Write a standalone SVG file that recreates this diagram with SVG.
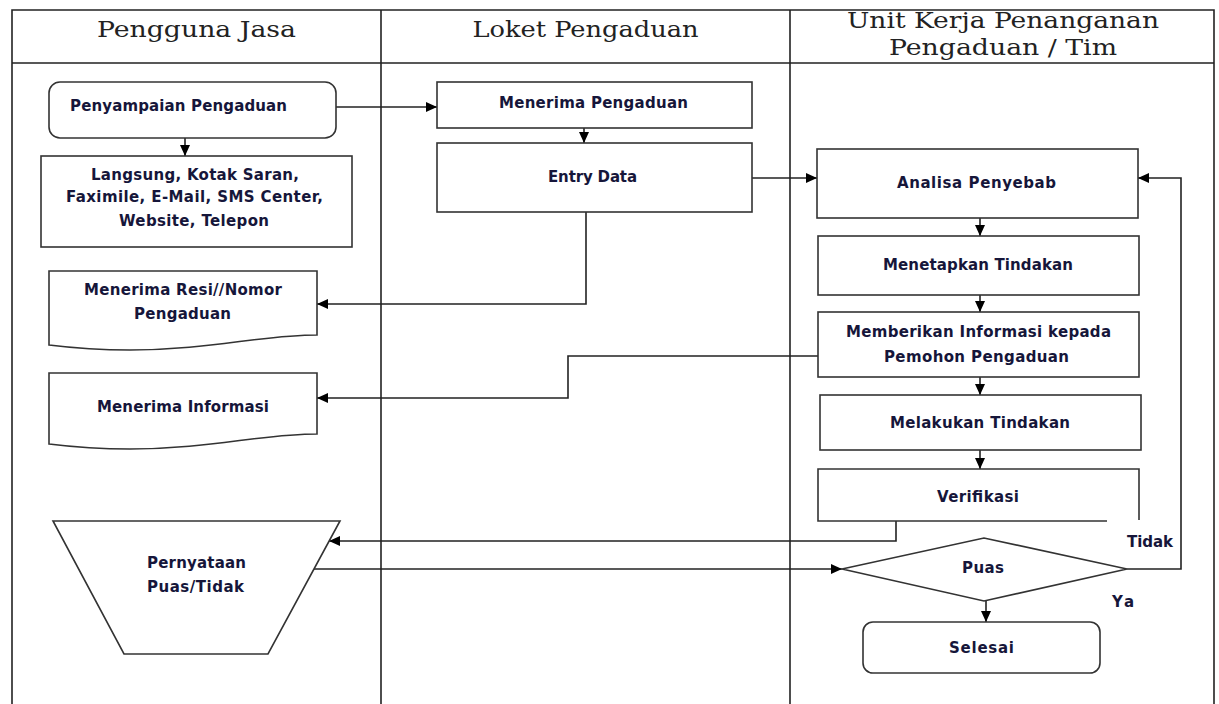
<svg xmlns="http://www.w3.org/2000/svg" width="1219" height="704" viewBox="0 0 1219 704">
<style>
.lane{fill:none;stroke:#222;stroke-width:1.6}
.hd{font-family:"DejaVu Serif","Liberation Serif",serif;font-size:22px;fill:#222;text-anchor:middle}
.box{fill:#fff;stroke:#333;stroke-width:1.6}
.t{font-family:"DejaVu Sans","Liberation Sans",sans-serif;font-weight:bold;font-size:15px;fill:#16163a;text-anchor:middle}
.c{fill:none;stroke:#222;stroke-width:1.6}
</style>
<defs>
<marker id="ah" markerUnits="userSpaceOnUse" markerWidth="12" markerHeight="10" refX="11" refY="5" orient="auto">
<path d="M0,0 L11,5 L0,10 z" fill="#000"/>
</marker>
</defs>
<rect width="1219" height="704" fill="#fff"/>
<g id="lanes">
<path class="lane" d="M12,704 V10 H1214 V704 M12,63 H1214 M381,10 V704 M790,10 V704"/>
<text class="hd" x="196.5" y="37" textLength="199" lengthAdjust="spacingAndGlyphs">Pengguna Jasa</text>
<text class="hd" x="585.5" y="37" textLength="226" lengthAdjust="spacingAndGlyphs">Loket Pengaduan</text>
<text class="hd" x="1003" y="28" textLength="312" lengthAdjust="spacingAndGlyphs">Unit Kerja Penanganan</text>
<text class="hd" x="1003" y="55" textLength="228" lengthAdjust="spacingAndGlyphs">Pengaduan / Tim</text>
</g>
<g id="connectors">
<path class="c" d="M336,107 H437" marker-end="url(#ah)"/>
<path class="c" d="M185,138 V156" marker-end="url(#ah)"/>
<path class="c" d="M584,128 V143" marker-end="url(#ah)"/>
<path class="c" d="M586,212 V304 H317" marker-end="url(#ah)"/>
<path class="c" d="M752,178 H817" marker-end="url(#ah)"/>
<path class="c" d="M980,218 V236" marker-end="url(#ah)"/>
<path class="c" d="M980,295 V312" marker-end="url(#ah)"/>
<path class="c" d="M818,356 H568 V398 H317" marker-end="url(#ah)"/>
<path class="c" d="M980,377 V395" marker-end="url(#ah)"/>
<path class="c" d="M980,450 V469" marker-end="url(#ah)"/>
<path class="c" d="M896,521 V541 H329" marker-end="url(#ah)"/>
<path class="c" d="M314,569 H842" marker-end="url(#ah)"/>
<path class="c" d="M986,601 V622" marker-end="url(#ah)"/>
<path class="c" d="M1127,569 H1181 V178 H1138" marker-end="url(#ah)"/>
<text class="t" x="1150" y="547" textLength="46" lengthAdjust="spacing">Tidak</text>
<text class="t" x="1123" y="607" textLength="22" lengthAdjust="spacing">Ya</text>
</g>
<g id="penyampaian">
<rect class="box" x="49" y="82" width="287" height="56" rx="11"/>
<text class="t" x="178.5" y="111" textLength="217" lengthAdjust="spacing">Penyampaian Pengaduan</text>
</g>
<g id="langsung">
<rect class="box" x="41" y="156" width="311" height="91"/>
<text class="t" x="195" y="180" textLength="208" lengthAdjust="spacing">Langsung, Kotak Saran,</text>
<text class="t" x="194.5" y="202" textLength="257" lengthAdjust="spacing">Faximile, E-Mail, SMS Center,</text>
<text class="t" x="194" y="226" textLength="150" lengthAdjust="spacing">Website, Telepon</text>
</g>
<g id="resi">
<path class="box" d="M49,271 H317 V335 C260,335 210,350 130,350 C95,350 65,347 49,345 Z"/>
<text class="t" x="183" y="295" textLength="198" lengthAdjust="spacing">Menerima Resi//Nomor</text>
<text class="t" x="182.5" y="319" textLength="97" lengthAdjust="spacing">Pengaduan</text>
</g>
<g id="informasi">
<path class="box" d="M49,373 H317 V434 C260,434 210,449 130,449 C95,449 65,446 49,444 Z"/>
<text class="t" x="183" y="412" textLength="172" lengthAdjust="spacing">Menerima Informasi</text>
</g>
<g id="pernyataan">
<path class="box" d="M53,521 H340 L268,654 H124 Z"/>
<text class="t" x="196.5" y="568" textLength="99" lengthAdjust="spacing">Pernyataan</text>
<text class="t" x="195.5" y="592" textLength="97" lengthAdjust="spacing">Puas/Tidak</text>
</g>
<g id="menerima-pengaduan">
<rect class="box" x="437" y="82" width="315" height="46"/>
<text class="t" x="593.5" y="108" textLength="189" lengthAdjust="spacing">Menerima Pengaduan</text>
</g>
<g id="entry-data">
<rect class="box" x="437" y="143" width="315" height="69"/>
<text class="t" x="592.5" y="182" textLength="89" lengthAdjust="spacing">Entry Data</text>
</g>
<g id="analisa">
<rect class="box" x="817" y="149" width="321" height="69"/>
<text class="t" x="976.5" y="188" textLength="159" lengthAdjust="spacing">Analisa Penyebab</text>
</g>
<g id="menetapkan">
<rect class="box" x="818" y="236" width="321" height="59"/>
<text class="t" x="978" y="270" textLength="190" lengthAdjust="spacing">Menetapkan Tindakan</text>
</g>
<g id="memberikan">
<rect class="box" x="818" y="312" width="321" height="65"/>
<text class="t" x="978.5" y="337" textLength="265" lengthAdjust="spacing">Memberikan Informasi kepada</text>
<text class="t" x="976.5" y="362" textLength="185" lengthAdjust="spacing">Pemohon Pengaduan</text>
</g>
<g id="melakukan">
<rect class="box" x="820" y="395" width="321" height="55"/>
<text class="t" x="980" y="428" textLength="180" lengthAdjust="spacing">Melakukan Tindakan</text>
</g>
<g id="verifikasi">
<path class="box" d="M1139,520 V469 H818 V521 H1107" fill="none"/>
<text class="t" x="978" y="502" textLength="82" lengthAdjust="spacing">Verifikasi</text>
</g>
<g id="puas">
<polygon class="box" points="842,569 984,538 1127,569 984,601"/>
<text class="t" x="983" y="573" textLength="42" lengthAdjust="spacing">Puas</text>
</g>
<g id="selesai">
<rect class="box" x="863" y="622" width="237" height="51" rx="10"/>
<text class="t" x="981.5" y="653" textLength="65" lengthAdjust="spacing">Selesai</text>
</g>
</svg>
